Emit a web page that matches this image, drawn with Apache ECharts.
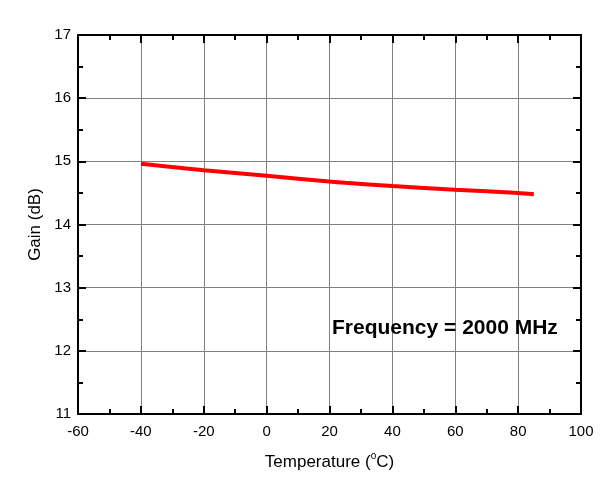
<!DOCTYPE html>
<html><head><meta charset="utf-8">
<script src="https://cdn.jsdelivr.net/npm/echarts@6/dist/echarts.min.js"></script>
<style>html,body{margin:0;padding:0;background:#fff}#c{width:613px;height:491px}</style>
</head><body><div id="c"></div>
<script>
const temperature = [-40, -20, 0, 20, 25, 40, 60, 80, 85];
const gain = [14.96, 14.86, 14.77, 14.68, 14.66, 14.61, 14.55, 14.50, 14.48];
const xTicks = [-60, -40, -20, 0, 20, 40, 60, 80, 100];
const yTicks = [11, 12, 13, 14, 15, 16, 17];
const annotation = 'Frequency = 2000 MHz';

const chart = echarts.init(document.getElementById('c'));
const font = 'Arial, "Liberation Sans", sans-serif';
const axisBase = {
  axisLine: {show: true, onZero: false, lineStyle: {color: '#000', width: 2}},
  axisTick: {show: true, inside: true, length: 8, lineStyle: {color: '#000', width: 2}},
  minorTick: {show: true, splitNumber: 2, length: 5, lineStyle: {color: '#000', width: 2}}
};
chart.setOption({
  animation: false,
  grid: {left: 78, right: 32, top: 35, bottom: 77, containLabel: false},
  title: {
    text: annotation, left: 327, top: 313,
    textStyle: {fontFamily: font, fontWeight: 'bold', fontSize: 21, color: '#000'}
  },
  xAxis: [
    Object.assign({}, axisBase, {
      type: 'value', min: xTicks[0], max: xTicks[xTicks.length - 1], interval: 20,
      position: 'bottom',
      name: '{a|Temperature (}{s|o}{a|C)}', nameLocation: 'middle', nameGap: 37,
      nameTextStyle: {rich: {
        a: {fontFamily: font, fontSize: 17, color: '#000', verticalAlign: 'bottom', lineHeight: 20},
        s: {fontFamily: font, fontSize: 10, color: '#000', verticalAlign: 'top', lineHeight: 20, padding: [0, 0, 8, 0]}
      }},
      axisLabel: {fontFamily: font, fontSize: 15, color: '#000', margin: 10},
      splitLine: {show: true, lineStyle: {color: '#808080', width: 1}}
    }),
    Object.assign({}, axisBase, {
      type: 'value', min: xTicks[0], max: xTicks[xTicks.length - 1], interval: 20,
      position: 'top', axisLabel: {show: false}, splitLine: {show: false}
    })
  ],
  yAxis: [
    Object.assign({}, axisBase, {
      type: 'value', min: yTicks[0], max: yTicks[yTicks.length - 1], interval: 1,
      position: 'left',
      name: 'Gain (dB)', nameLocation: 'middle', nameGap: 32,
      nameTextStyle: {fontFamily: font, fontSize: 17, color: '#000'},
      axisLabel: {fontFamily: font, fontSize: 15, color: '#000', margin: 7},
      splitLine: {show: true, lineStyle: {color: '#808080', width: 1}}
    }),
    Object.assign({}, axisBase, {
      type: 'value', min: yTicks[0], max: yTicks[yTicks.length - 1], interval: 1,
      position: 'right', axisLabel: {show: false}, splitLine: {show: false}
    })
  ],
  series: [{
    type: 'line', xAxisIndex: 0, yAxisIndex: 0,
    data: temperature.map((t, i) => [t, gain[i]]),
    smooth: 0.3, showSymbol: false, symbol: 'none',
    lineStyle: {color: '#ff0000', width: 4}
  }]
});
</script></body></html>
